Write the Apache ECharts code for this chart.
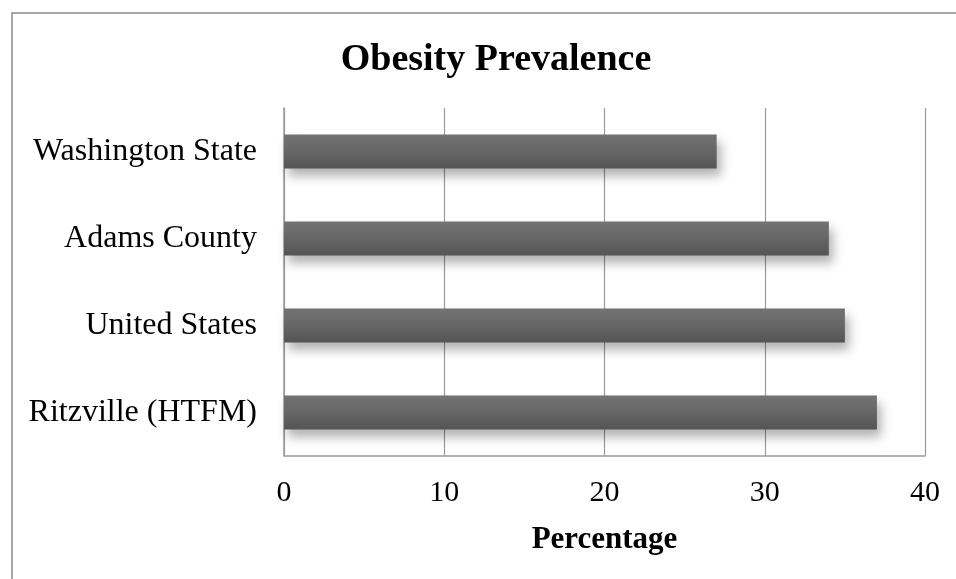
<!DOCTYPE html>
<html>
<head>
<meta charset="utf-8">
<script src="https://cdn.jsdelivr.net/npm/echarts@6/dist/echarts.min.js"></script>
<style>
  html, body { margin: 0; padding: 0; background: #ffffff; }
  #chart { width: 956px; height: 579px; }
</style>
</head>
<body>
<div id="chart"></div>
<script>
// Places, listed top to bottom
var categories = ['Washington State', 'Adams County', 'United States', 'Ritzville (HTFM)'];
// Obesity prevalence (%)
var prevalence = [27, 34, 35, 37];
// Horizontal axis
var axisMin = 0;
var axisMax = 40;
var axisStep = 10;

var serif = '"Liberation Serif", "Times New Roman", serif';
var chart = echarts.init(document.getElementById('chart'), null, { renderer: 'canvas' });

chart.setOption({
  backgroundColor: '#ffffff',
  animation: false,
  title: {
    text: 'Obesity Prevalence',
    left: 491,
    top: 36,
    textAlign: 'center',
    textStyle: { fontFamily: serif, fontWeight: 'bold', fontSize: 38, color: '#000000' }
  },
  graphic: [{
    type: 'rect',
    shape: { x: 12, y: 13, width: 980, height: 600 },
    style: { fill: 'none', stroke: '#8a8a8a', lineWidth: 1.5 },
    silent: true
  }],
  grid: { left: 284, right: 31, top: 108, bottom: 123, containLabel: false },
  xAxis: {
    type: 'value',
    min: axisMin,
    max: axisMax,
    interval: axisStep,
    name: 'Percentage',
    nameLocation: 'middle',
    nameGap: 68,
    nameTextStyle: { fontFamily: serif, fontWeight: 'bold', fontSize: 31, color: '#000000' },
    axisLine: { show: true, lineStyle: { color: '#9a9a9a', width: 1.5 } },
    axisTick: { show: false },
    axisLabel: { fontFamily: serif, fontSize: 30, color: '#000000', margin: 22 },
    splitLine: { show: true, lineStyle: { color: '#9a9a9a', width: 1.2 } }
  },
  yAxis: {
    type: 'category',
    data: categories,
    inverse: true,
    axisLine: { show: true, lineStyle: { color: '#9a9a9a', width: 1.5 } },
    axisTick: { show: false },
    axisLabel: { fontFamily: serif, fontSize: 32, color: '#000000', margin: 27 },
    splitLine: { show: false }
  },
  series: [{
    type: 'bar',
    data: prevalence,
    barWidth: 34,
    itemStyle: {
      color: new echarts.graphic.LinearGradient(0, 0, 0, 1, [
        { offset: 0, color: '#737373' },
        { offset: 0.5, color: '#666666' },
        { offset: 1, color: '#545454' }
      ]),
      shadowColor: 'rgba(0,0,0,0.3)',
      shadowBlur: 10,
      shadowOffsetX: 4,
      shadowOffsetY: 7
    }
  }]
});
</script>
</body>
</html>
